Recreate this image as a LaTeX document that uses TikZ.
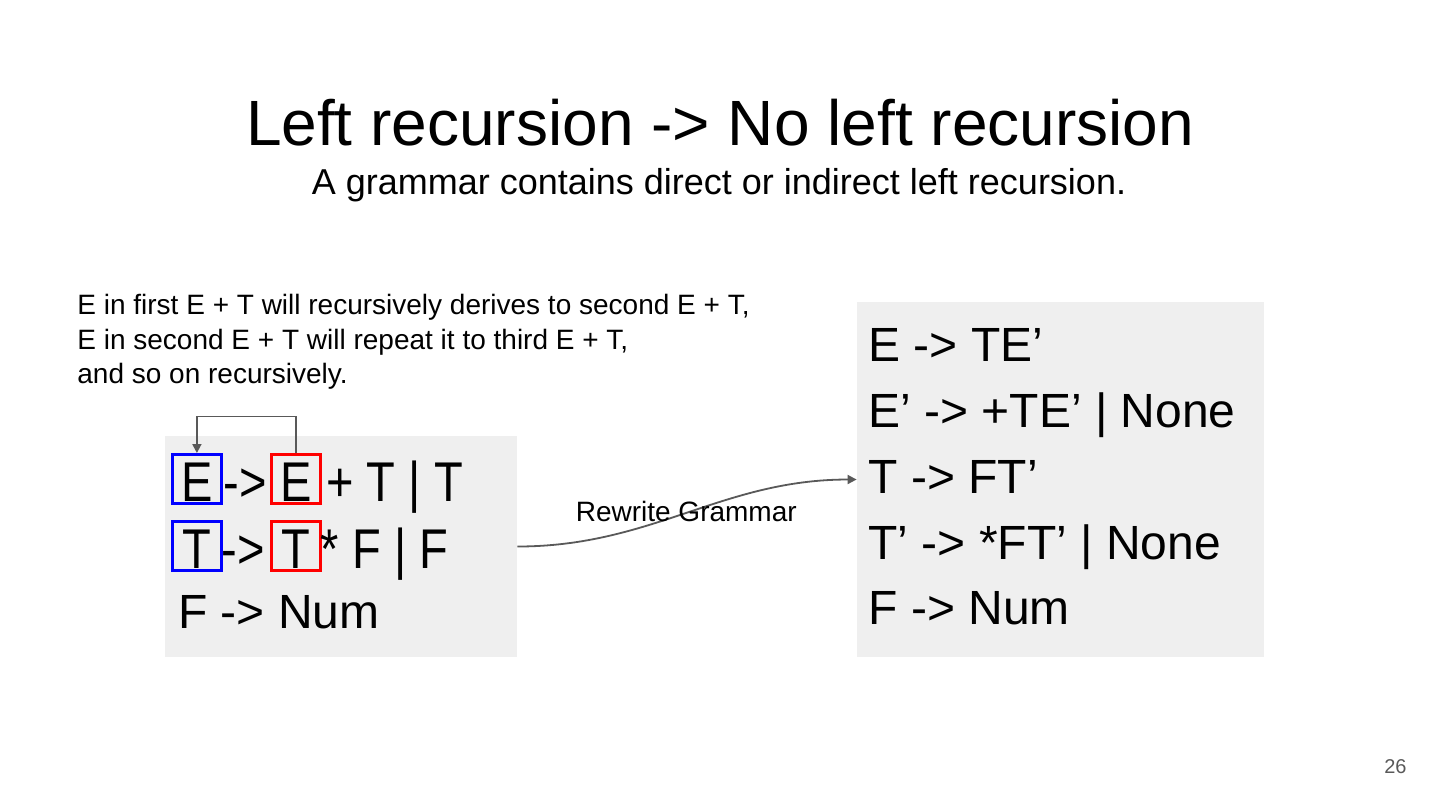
\documentclass[tikz,border=0pt]{standalone}
\usepackage{fontspec}
\setmainfont{Liberation Sans}
\newfontfamily\narrowsans[FakeStretch=0.84]{Liberation Sans}
\usetikzlibrary{arrows.meta}
\definecolor{panelgray}{HTML}{EFEFEF}
\definecolor{linkgray}{HTML}{595959}
\definecolor{lhsblue}{HTML}{0000FF}
\definecolor{lhsred}{HTML}{FF0000}

\begin{document}
\begin{tikzpicture}[x=0.5pt,y=-0.5pt,
  panel/.style={fill=panelgray,inner sep=0pt},
  symbox/.style={draw=#1,line width=1.5pt,minimum width=24.5pt,minimum height=24.5pt,
    inner sep=0pt,text height=22pt,text depth=0pt,font=\narrowsans\fontsize{28pt}{33pt}\selectfont},
  bigprod/.style={anchor=base west,inner sep=0pt,font=\narrowsans\fontsize{28pt}{33pt}\selectfont},
  prod/.style={anchor=base west,inner sep=0pt,font=\fontsize{24pt}{29pt}\selectfont},
  notetext/.style={anchor=base west,inner sep=0pt,font=\fontsize{14pt}{17pt}\selectfont},
  linkarrow/.style={draw=linkgray,line width=0.9pt,-{Triangle[length=4.5pt,width=4.5pt]}}]
  \useasboundingbox (0,0) rectangle (1440,810);

  % heading
  \node[anchor=base,inner sep=0pt,font=\fontsize{32pt}{38pt}\selectfont] (title) at (720,145.7)
    {Left recursion -> No left recursion};
  \node[anchor=base,inner sep=0pt,font=\fontsize{18pt}{22pt}\selectfont] (subtitle) at (719,194.3)
    {A grammar contains direct or indirect left recursion.};

  % remark
  \node[notetext] (note1) at (77,314.3) {E in first E + T will recursively derives to second E + T,};
  \node[notetext] (note2) at (77,349) {E in second E + T will repeat it to third E + T,};
  \node[notetext] (note3) at (77,383.5) {and so on recursively.};

  % panels
  \node[panel,minimum width=176pt,minimum height=110.5pt] (lbox) at (341,546.5) {};
  \node[panel,minimum width=203.5pt,minimum height=177.5pt] (rbox) at (1060.5,479.5) {};

  % left grammar
  \node[symbox=lhsblue] (bE) at (196.9,479) {E};
  \node[bigprod] (arr1) at (223.5,501) {->};
  \node[symbox=lhsred] (rE) at (296.3,479) {E};
  \node[bigprod] (rest1) at (326,501) {+ T | T};
  \node[symbox=lhsblue] (bT) at (196.9,546.2) {T};
  \node[bigprod] (arr2) at (221.5,568.2) {->};
  \node[symbox=lhsred] (rT) at (296.3,546.2) {T};
  \node[bigprod] (rest2) at (320.5,568.2) {* F | F};
  \node[prod] (lrow3) at (177.8,628.3) {F -> Num};

  \draw[linkarrow] (rE.north) -- ++(0,-36.6) -| (bE.north);

  % right grammar
  \node[prod] (rrow1) at (868,361.7) {E -> TE’};
  \node[prod] (rrow2) at (868,427.5) {E’ -> +TE’ | None};
  \node[prod] (rrow3) at (868,493.3) {T -> FT’};
  \node[prod] (rrow4) at (868,559.1) {T’ -> *FT’ | None};
  \node[prod] (rrow5) at (868,624.9) {F -> Num};

  % rewrite
  \draw[linkarrow] (lbox.east) to[out=0,in=180] (rbox.west);
  \node[anchor=base,inner sep=0pt,font=\fontsize{14pt}{17pt}\selectfont] (rewrite) at (686.3,521.7)
    {Rewrite Grammar};

  \node[anchor=base east,inner sep=0pt,text=linkgray,font=\fontsize{10pt}{12pt}\selectfont] (page) at (1407,773) {26};
\end{tikzpicture}
\end{document}
